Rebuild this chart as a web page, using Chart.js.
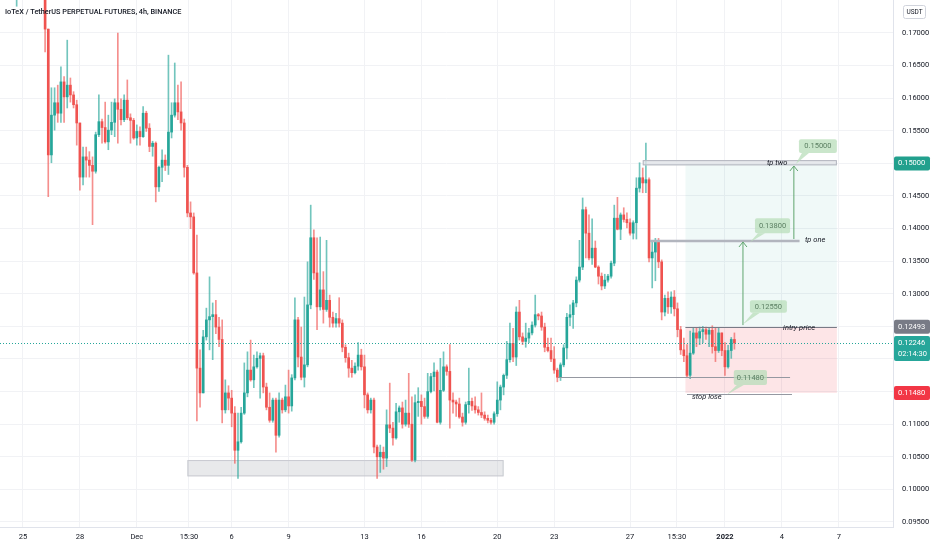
<!DOCTYPE html>
<html>
<head>
<meta charset="utf-8">
<script src="https://cdn.jsdelivr.net/npm/chart.js@4.4.1/dist/chart.umd.min.js"></script>
<style>
  html, body { margin: 0; padding: 0; background: #fff; }
</style>
</head>
<body>
<canvas id="myChart" width="932" height="550"></canvas>
<script>
// 4h candles, index 0 = Nov 24 00:00 (6 candles a day)
const START = 4;
const FIRST_OPEN = 0.1790;

const closes = [
  0.1800, 0.1830, 0.1850, 0.1820, 0.1840, 0.1810, 0.1795, 0.1800, 0.1780, 0.1706,
  0.1513, 0.1574, 0.1593, 0.1577, 0.1625, 0.1602, 0.1620, 0.1605, 0.1590, 0.1562,
  0.1479, 0.1510, 0.1505, 0.1497, 0.1488, 0.1544, 0.1564, 0.1555, 0.1533, 0.1551,
  0.1563, 0.1593, 0.1583, 0.1567, 0.1597, 0.1570, 0.1566, 0.1539, 0.1549, 0.1541,
  0.1577, 0.1554, 0.1526, 0.1531, 0.1464, 0.1494, 0.1505, 0.1497, 0.1548, 0.1574,
  0.1593, 0.1579, 0.1562, 0.1494, 0.1424, 0.1418, 0.1332, 0.1186, 0.1148, 0.1234,
  0.1260, 0.1265, 0.1268, 0.1249, 0.1230, 0.1122, 0.1148, 0.1140, 0.1117, 0.1060,
  0.1073, 0.1117, 0.1148, 0.1183, 0.1168, 0.1188, 0.1201, 0.1205, 0.1157, 0.1126,
  0.1106, 0.1137, 0.1083, 0.1137, 0.1122, 0.1142, 0.1128, 0.1171, 0.1260, 0.1203,
  0.1172, 0.1191, 0.1283, 0.1386, 0.1332, 0.1280, 0.1306, 0.1276, 0.1290, 0.1264,
  0.1255, 0.1262, 0.1255, 0.1218, 0.1202, 0.1186, 0.1179, 0.1189, 0.1206, 0.1188,
  0.1145, 0.1122, 0.1137, 0.1065, 0.1050, 0.1057, 0.1048, 0.1099, 0.1094, 0.1079,
  0.1119, 0.1125, 0.1100, 0.1117, 0.1100, 0.1045, 0.1133, 0.1135, 0.1127, 0.1112,
  0.1150, 0.1173, 0.1180, 0.1103, 0.1152, 0.1188, 0.1181, 0.1137, 0.1134, 0.1131,
  0.1111, 0.1103, 0.1130, 0.1135, 0.1128, 0.1122, 0.1118, 0.1114, 0.1109, 0.1106,
  0.1103, 0.1116, 0.1137, 0.1157, 0.1175, 0.1199, 0.1224, 0.1203, 0.1272, 0.1234,
  0.1227, 0.1232, 0.1240, 0.1252, 0.1268, 0.1266, 0.1249, 0.1218, 0.1213, 0.1200,
  0.1183, 0.1172, 0.1191, 0.1217, 0.1264, 0.1268, 0.1286, 0.1321, 0.1341, 0.1429,
  0.1393, 0.1355, 0.1370, 0.1341, 0.1327, 0.1312, 0.1321, 0.1327, 0.1347, 0.1416,
  0.1399, 0.1421, 0.1414, 0.1409, 0.1393, 0.1409, 0.1462, 0.1478, 0.1470, 0.1475,
  0.1355, 0.1364, 0.1380, 0.1349, 0.1272, 0.1293, 0.1280, 0.1295, 0.1277, 0.1245,
  0.1214, 0.1205, 0.1175, 0.1209, 0.1240, 0.1232, 0.1242, 0.1245, 0.1238, 0.1244,
  0.1219, 0.1213, 0.1240, 0.1213, 0.1188, 0.1213, 0.1230, 0.12246
];
const highs = [
  0.1815, 0.1850, 0.1880, 0.1860, 0.1870, 0.1850, 0.1825, 0.1820, 0.1810, 0.1785,
  0.1706, 0.1616, 0.1616, 0.1620, 0.1648, 0.1633, 0.1689, 0.1631, 0.1610, 0.1597,
  0.1562, 0.1525, 0.1525, 0.1518, 0.1510, 0.1548, 0.1605, 0.1568, 0.1594, 0.1574,
  0.1594, 0.1599, 0.1700, 0.1599, 0.1605, 0.1628, 0.1576, 0.1569, 0.1559, 0.1556,
  0.1587, 0.1580, 0.1561, 0.1534, 0.1533, 0.1496, 0.1521, 0.1513, 0.1666, 0.1593,
  0.1654, 0.1620, 0.1625, 0.1568, 0.1497, 0.1441, 0.1424, 0.1390, 0.1214, 0.1244,
  0.1278, 0.1326, 0.1286, 0.1290, 0.1264, 0.1260, 0.1168, 0.1159, 0.1152, 0.1127,
  0.1117, 0.1126, 0.1194, 0.1211, 0.1229, 0.1206, 0.1211, 0.1209, 0.1209, 0.1163,
  0.1148, 0.1140, 0.1140, 0.1148, 0.1140, 0.1160, 0.1183, 0.1176, 0.1294, 0.1264,
  0.1249, 0.1295, 0.1349, 0.1436, 0.1398, 0.1386, 0.1387, 0.1334, 0.1382, 0.1298,
  0.1272, 0.1270, 0.1294, 0.1260, 0.1222, 0.1209, 0.1198, 0.1194, 0.1225, 0.1215,
  0.1206, 0.1148, 0.1140, 0.1140, 0.1068, 0.1068, 0.1065, 0.1122, 0.1163, 0.1103,
  0.1132, 0.1128, 0.1134, 0.1137, 0.1178, 0.1142, 0.1145, 0.1156, 0.1145, 0.1140,
  0.1178, 0.1178, 0.1194, 0.1183, 0.1201, 0.1211, 0.1191, 0.1222, 0.1148, 0.1137,
  0.1140, 0.1117, 0.1134, 0.1186, 0.1140, 0.1142, 0.1127, 0.1148, 0.1119, 0.1114,
  0.1109, 0.1119, 0.1165, 0.1160, 0.1177, 0.1227, 0.1255, 0.1247, 0.1280, 0.1290,
  0.1240, 0.1255, 0.1247, 0.1257, 0.1298, 0.1270, 0.1272, 0.1255, 0.1232, 0.1232,
  0.1219, 0.1186, 0.1194, 0.1222, 0.1270, 0.1283, 0.1290, 0.1326, 0.1382, 0.1447,
  0.1433, 0.1421, 0.1415, 0.1381, 0.1343, 0.1332, 0.1330, 0.1330, 0.1350, 0.1436,
  0.1448, 0.1424, 0.1432, 0.1424, 0.1415, 0.1412, 0.1478, 0.1501, 0.1493, 0.1531,
  0.1478, 0.1379, 0.1385, 0.1385, 0.1352, 0.1298, 0.1303, 0.1303, 0.1305, 0.1286,
  0.1250, 0.1232, 0.1222, 0.1243, 0.1247, 0.1248, 0.1249, 0.1250, 0.1249, 0.1248,
  0.1251, 0.1247, 0.1248, 0.1240, 0.1225, 0.1221, 0.1233, 0.1240
];
const lows = [
  0.1741, 0.1790, 0.1815, 0.1800, 0.1810, 0.1790, 0.1770, 0.1768, 0.1762, 0.1671,
  0.1449, 0.1501, 0.1551, 0.1563, 0.1563, 0.1563, 0.1585, 0.1594, 0.1585, 0.1528,
  0.1459, 0.1467, 0.1479, 0.1479, 0.1406, 0.1485, 0.1541, 0.1531, 0.1531, 0.1521,
  0.1544, 0.1541, 0.1531, 0.1559, 0.1564, 0.1567, 0.1531, 0.1537, 0.1528, 0.1528,
  0.1540, 0.1549, 0.1518, 0.1511, 0.1441, 0.1457, 0.1472, 0.1489, 0.1483, 0.1539,
  0.1571, 0.1567, 0.1551, 0.1479, 0.1418, 0.1400, 0.1330, 0.1105, 0.1126, 0.1148,
  0.1229, 0.1214, 0.1199, 0.1239, 0.1219, 0.1102, 0.1117, 0.1122, 0.1096, 0.1040,
  0.1017, 0.1071, 0.1115, 0.1142, 0.1166, 0.1156, 0.1186, 0.1140, 0.1148, 0.1122,
  0.1103, 0.1103, 0.1057, 0.1080, 0.1117, 0.1119, 0.1117, 0.1120, 0.1168, 0.1188,
  0.1168, 0.1157, 0.1188, 0.1277, 0.1322, 0.1245, 0.1275, 0.1255, 0.1273, 0.1249,
  0.1249, 0.1249, 0.1249, 0.1211, 0.1195, 0.1172, 0.1172, 0.1177, 0.1183, 0.1183,
  0.1125, 0.1117, 0.1117, 0.1056, 0.1017, 0.1026, 0.1031, 0.1035, 0.1087, 0.1068,
  0.1077, 0.1103, 0.1094, 0.1097, 0.1095, 0.1043, 0.1042, 0.1112, 0.1100, 0.1109,
  0.1109, 0.1148, 0.1151, 0.1102, 0.1100, 0.1150, 0.1175, 0.1094, 0.1117, 0.1112,
  0.1109, 0.1097, 0.1100, 0.1117, 0.1121, 0.1117, 0.1114, 0.1110, 0.1106, 0.1102,
  0.1100, 0.1100, 0.1112, 0.1122, 0.1145, 0.1170, 0.1195, 0.1196, 0.1190, 0.1229,
  0.1222, 0.1218, 0.1225, 0.1237, 0.1249, 0.1260, 0.1244, 0.1211, 0.1211, 0.1196,
  0.1178, 0.1165, 0.1167, 0.1188, 0.1200, 0.1251, 0.1247, 0.1280, 0.1318, 0.1337,
  0.1355, 0.1352, 0.1345, 0.1340, 0.1315, 0.1306, 0.1308, 0.1318, 0.1324, 0.1343,
  0.1398, 0.1383, 0.1410, 0.1401, 0.1390, 0.1384, 0.1384, 0.1456, 0.1455, 0.1455,
  0.1349, 0.1309, 0.1320, 0.1340, 0.1260, 0.1266, 0.1270, 0.1270, 0.1266, 0.1234,
  0.1207, 0.1196, 0.1172, 0.1170, 0.1207, 0.1219, 0.1222, 0.1225, 0.1230, 0.1219,
  0.1209, 0.1196, 0.1210, 0.1205, 0.1175, 0.1186, 0.1201, 0.1215
];

// time axis labels (candle index) and price ticks
const tickIdx = [6, 24, 42, 58.5, 72, 90, 114, 132, 156, 174, 198, 212.8, 228, 246, 264];
const tickText = ["25", "28", "Dec", "15:30", "6", "9", "13", "16", "20", "23", "27", "15:30", "2022", "4", "7"];
const priceTicks = [0.095, 0.100, 0.105, 0.110, 0.115, 0.120, 0.125, 0.130, 0.135, 0.140, 0.145, 0.150, 0.155, 0.160, 0.165, 0.170];

// drawn levels
const lastPrice = 0.12246;
const entryPrice = 0.12493;
const targetPrice = 0.15000;
const stopPrice = 0.11480;
const tpOnePrice = 0.1381;
const supportPrice = 0.1172;

const UP = "#26a69a", DOWN = "#ef5350";
const FONT = 'Roboto, "Liberation Sans", sans-serif';

const opens = closes.map((c, k) => (k === 0 ? FIRST_OPEN : closes[k - 1]));
const xs = closes.map((c, k) => START + k);
const isUp = closes.map((c, k) => c >= opens[k]);

const wickData = xs.map((x, k) => ({ x: x, y: [lows[k], highs[k]] }));
const bodyData = xs.map((x, k) => ({ x: x, y: [Math.min(opens[k], closes[k]), Math.max(opens[k], closes[k])] }));

function box(ctx, x1, y1, x2, y2, fill, stroke) {
  ctx.fillStyle = fill;
  ctx.fillRect(x1, y1, x2 - x1, y2 - y1);
  if (stroke) {
    ctx.strokeStyle = stroke;
    ctx.lineWidth = 1;
    ctx.strokeRect(x1 + 0.5, y1 + 0.5, x2 - x1 - 1, y2 - y1 - 1);
  }
}

function hline(ctx, x1, x2, y, color, w) {
  ctx.strokeStyle = color;
  ctx.lineWidth = w;
  ctx.beginPath();
  ctx.moveTo(x1, y);
  ctx.lineTo(x2, y);
  ctx.stroke();
}

function arrowUp(ctx, x, y1, y2, color) {
  ctx.strokeStyle = color;
  ctx.lineWidth = 1;
  ctx.beginPath();
  ctx.moveTo(x, y1);
  ctx.lineTo(x, y2);
  ctx.moveTo(x - 4, y2 + 5);
  ctx.lineTo(x, y2);
  ctx.lineTo(x + 4, y2 + 5);
  ctx.stroke();
}

function callout(ctx, text, x1, y1, x2, y2, tx, ty) {
  ctx.fillStyle = "rgba(184, 222, 186, 0.75)";
  ctx.beginPath();
  ctx.moveTo(tx, ty);
  ctx.lineTo(x1 + 3, y2);
  ctx.lineTo(x1 + 10, y2);
  ctx.closePath();
  ctx.fill();
  ctx.beginPath();
  ctx.roundRect(x1, y1, x2 - x1, y2 - y1, 2);
  ctx.fill();
  ctx.fillStyle = "#5b7f62";
  ctx.font = "7.5px " + FONT;
  ctx.textAlign = "center";
  ctx.textBaseline = "middle";
  ctx.fillText(text, (x1 + x2) / 2, (y1 + y2) / 2 + 0.5);
}

function label(ctx, text, x, y) {
  ctx.fillStyle = "#131722";
  ctx.font = "italic 7.5px " + FONT;
  ctx.textAlign = "left";
  ctx.textBaseline = "middle";
  ctx.fillText(text, x, y);
}

function tag(ctx, left, y, h, color, lines) {
  ctx.fillStyle = color;
  ctx.beginPath();
  ctx.roundRect(left + 1, y - 7, 36, h, 2);
  ctx.fill();
  ctx.fillStyle = "#ffffff";
  ctx.font = "7.5px " + FONT;
  ctx.textAlign = "left";
  ctx.textBaseline = "middle";
  lines.forEach((t, i) => ctx.fillText(t, left + 5, y + i * 11));
}

const overlay = {
  id: "overlay",
  beforeDatasetsDraw(chart) {
    const { ctx, chartArea: a } = chart;
    const px = (v) => chart.scales.x.getPixelForValue(v);
    const py = (v) => chart.scales.y.getPixelForValue(v);
    ctx.save();
    ctx.beginPath();
    ctx.rect(a.left, a.top, a.right - a.left, a.bottom - a.top);
    ctx.clip();
    // demand zone
    box(ctx, px(58), py(0.1045), px(158), py(0.1020), "rgba(178, 181, 190, 0.3)", "#c9cbd1");
    // long position tool
    box(ctx, px(215.5), py(targetPrice), px(263.4), py(entryPrice), "rgba(8, 153, 129, 0.06)");
    box(ctx, px(215.5), py(entryPrice), px(263.4), py(stopPrice), "rgba(242, 54, 69, 0.13)");
    ctx.restore();
  },
  afterDatasetsDraw(chart) {
    const { ctx, chartArea: a } = chart;
    const px = (v) => chart.scales.x.getPixelForValue(v);
    const py = (v) => chart.scales.y.getPixelForValue(v);
    ctx.save();
    // current price
    ctx.setLineDash([1, 2]);
    hline(ctx, a.left, a.right, Math.round(py(lastPrice)) + 0.5, UP, 1);
    ctx.setLineDash([]);
    // levels
    box(ctx, px(202), py(0.1505), px(263.4), py(0.1497), "rgba(225, 227, 232, 0.8)", "#b2b5be");
    hline(ctx, px(204.3), px(251.6), py(tpOnePrice), "#b2b5be", 2.5);
    hline(ctx, px(215.5), px(263.4), Math.round(py(entryPrice)) + 0.5, "#787b86", 1);
    hline(ctx, px(175.2), px(248.6), Math.round(py(supportPrice)) + 0.5, "#9598a1", 1);
    hline(ctx, px(216), px(249.2), Math.round(py(stopPrice)) + 1.5, "#9598a1", 1);
    // arrows
    arrowUp(ctx, px(233.7), py(0.1252), py(tpOnePrice) + 1, "#5fa56e");
    arrowUp(ctx, px(249.8), py(0.1384), py(0.1496), "#5fa56e");
    // callouts
    callout(ctx, "0.15000", px(251.4), py(0.1537), px(263.4), py(0.1516), px(250.4), py(0.1499));
    callout(ctx, "0.13800", px(237.5), py(0.1416), px(248.6), py(0.1393), px(235.9), py(0.1379));
    callout(ctx, "0.12550", px(235.9), py(0.1290), px(247.6), py(0.1271), px(233.6), py(0.1253));
    callout(ctx, "0.11480", px(230.8), py(0.1183), px(241.3), py(0.1160), px(228.6), py(0.1145));
    // texts
    label(ctx, "tp two", px(241.3), py(0.1501));
    label(ctx, "tp one", px(253.3), py(0.1382));
    label(ctx, "intry price", px(246.4), py(0.1248));
    label(ctx, "stop lose", px(217.6), py(0.1141));
    ctx.restore();
  },
  afterDraw(chart) {
    const { ctx, chartArea: a } = chart;
    const py = (v) => chart.scales.y.getPixelForValue(v);
    ctx.save();
    // title
    ctx.fillStyle = "#131722";
    ctx.font = "500 7.3px " + FONT;
    ctx.textAlign = "left";
    ctx.textBaseline = "middle";
    ctx.fillText("IoTeX / TetherUS PERPETUAL FUTURES, 4h, BINANCE", 5, 12);
    // currency badge
    ctx.strokeStyle = "#d1d4dc";
    ctx.lineWidth = 1;
    ctx.fillStyle = "#ffffff";
    ctx.beginPath();
    ctx.roundRect(a.right + 10.5, 5.5, 22, 13, 2);
    ctx.fill();
    ctx.stroke();
    ctx.fillStyle = "#131722";
    ctx.font = "6.5px " + FONT;
    ctx.textAlign = "center";
    ctx.fillText("USDT", a.right + 21.5, 12.5);
    // price tags
    tag(ctx, a.right, py(targetPrice), 14, "#22a08d", ["0.15000"]);
    tag(ctx, a.right, py(entryPrice), 14, "#787b86", ["0.12493"]);
    tag(ctx, a.right, py(lastPrice), 25, UP, ["0.12246", "02:14:30"]);
    tag(ctx, a.right, py(stopPrice), 14, "#f23645", ["0.11480"]);
    ctx.restore();
  },
};

Chart.defaults.font.family = FONT;

const ctx = document.getElementById("myChart").getContext("2d");

const candleChart = new Chart(ctx, {
  type: "bar",
  data: {
    datasets: [
      {
        label: "wick",
        data: wickData,
        backgroundColor: isUp.map((u) => (u ? "rgba(38,166,154,0.65)" : "rgba(239,83,80,0.65)")),
        barThickness: 1,
        grouped: false,
        borderWidth: 0,
      },
      {
        label: "body",
        data: bodyData,
        backgroundColor: isUp.map((u) => (u ? UP : DOWN)),
        barThickness: 2,
        minBarLength: 1,
        grouped: false,
        borderWidth: 0,
      },
    ],
  },
  options: {
    responsive: false,
    animation: false,
    layout: { padding: 0 },
    plugins: {
      legend: { display: false },
      tooltip: { enabled: false },
    },
    scales: {
      x: {
        type: "linear",
        offset: false,
        min: -1.265,
        max: 281.15,
        afterBuildTicks: (scale) => {
          scale.ticks = tickIdx.map((v) => ({ value: v }));
        },
        afterFit: (scale) => {
          scale.height = 23;
          scale.paddingLeft = 0;
          scale.paddingRight = 0;
        },
        ticks: {
          autoSkip: false,
          maxRotation: 0,
          padding: 6,
          color: "#131722",
          font: (c) => ({ size: 7.5, weight: tickText[c.index] === "2022" ? "bold" : "normal" }),
          callback: (value, index) => tickText[index],
        },
        grid: { color: "#f1f2f5", drawTicks: false, offset: false },
        border: { color: "#e0e3eb" },
      },
      y: {
        type: "linear",
        position: "right",
        min: 0.094233,
        max: 0.175061,
        afterBuildTicks: (scale) => {
          scale.ticks = priceTicks.map((v) => ({ value: v }));
        },
        afterFit: (scale) => {
          scale.width = 39;
          scale.paddingTop = 0;
          scale.paddingBottom = 0;
        },
        ticks: {
          padding: 9,
          color: "#131722",
          font: { size: 7.5 },
          callback: (value) => value.toFixed(5),
        },
        grid: { color: "#f1f2f5", drawTicks: false },
        border: { color: "#e0e3eb" },
      },
    },
  },
  plugins: [overlay],
});
</script>
</body>
</html>
